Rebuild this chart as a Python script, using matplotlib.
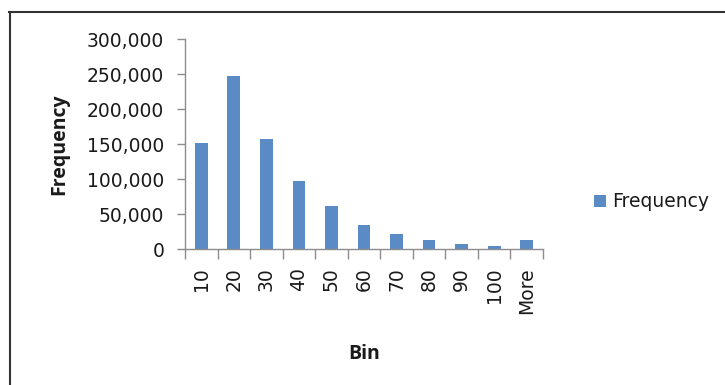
import matplotlib.pyplot as plt
from matplotlib.lines import Line2D
from matplotlib.ticker import FuncFormatter

# histogram bins and counts
bins = ['10', '20', '30', '40', '50', '60', '70', '80', '90', '100', 'More']
counts = [151000, 247000, 157000, 97000, 62000, 35000, 21000, 13000, 7500, 4500, 13000]

bar_color = '#5b8bc5'
axis_color = '#8c8c8c'
text_color = '#1a1a1a'

fig = plt.figure(figsize=(7.25, 3.85), dpi=100)
ax = fig.add_axes([0.2552, 0.3532, 0.4938, 0.5455])

x = range(len(bins))
ax.bar(x, counts, width=0.39, color=bar_color, label='Frequency')

ax.set_xlim(-0.5, len(bins) - 0.5)
ax.set_ylim(0, 300000)
ax.set_yticks(range(0, 300001, 50000))
ax.yaxis.set_major_formatter(FuncFormatter(lambda v, p: f'{int(v):,}'))

# category labels sit at bar centres, tick marks go between categories
ax.set_xticks(list(x))
ax.set_xticklabels(bins, rotation=90, fontsize=13.5, color=text_color)
ax.tick_params(axis='x', length=0, pad=13)
ax.set_xticks([i - 0.5 for i in range(len(bins) + 1)], minor=True)
ax.tick_params(axis='x', which='minor', length=7, width=1, color=axis_color, direction='out')
ax.tick_params(axis='y', length=6, width=1, color=axis_color, labelsize=13.5, labelcolor=text_color, pad=9)

for side in ['top', 'right']:
    ax.spines[side].set_visible(False)
for side in ['left', 'bottom']:
    ax.spines[side].set_color(axis_color)
    ax.spines[side].set_linewidth(1)

ax.set_xlabel('Bin', fontsize=14, fontweight='bold', family='Open Sans', labelpad=22, color=text_color)
ax.set_ylabel('Frequency', fontsize=14, fontweight='bold', family='Open Sans', labelpad=13, color=text_color)

leg = ax.legend(loc='center left', bbox_to_anchor=(1.115, 0.224), frameon=False,
                fontsize=13.5, handlelength=0.65, handleheight=0.65, handletextpad=0.35,
                borderpad=0)
for t in leg.get_texts():
    t.set_color(text_color)

# chart frame: only top and left edges are visible in the crop
fig.add_artist(Line2D([0.0125, 1.0], [0.968, 0.968], color='#333333', lw=1.5, transform=fig.transFigure))
fig.add_artist(Line2D([0.0135, 0.0135], [0.0, 0.968], color='#333333', lw=1.5, transform=fig.transFigure))

plt.savefig('out.png', dpi=100)
